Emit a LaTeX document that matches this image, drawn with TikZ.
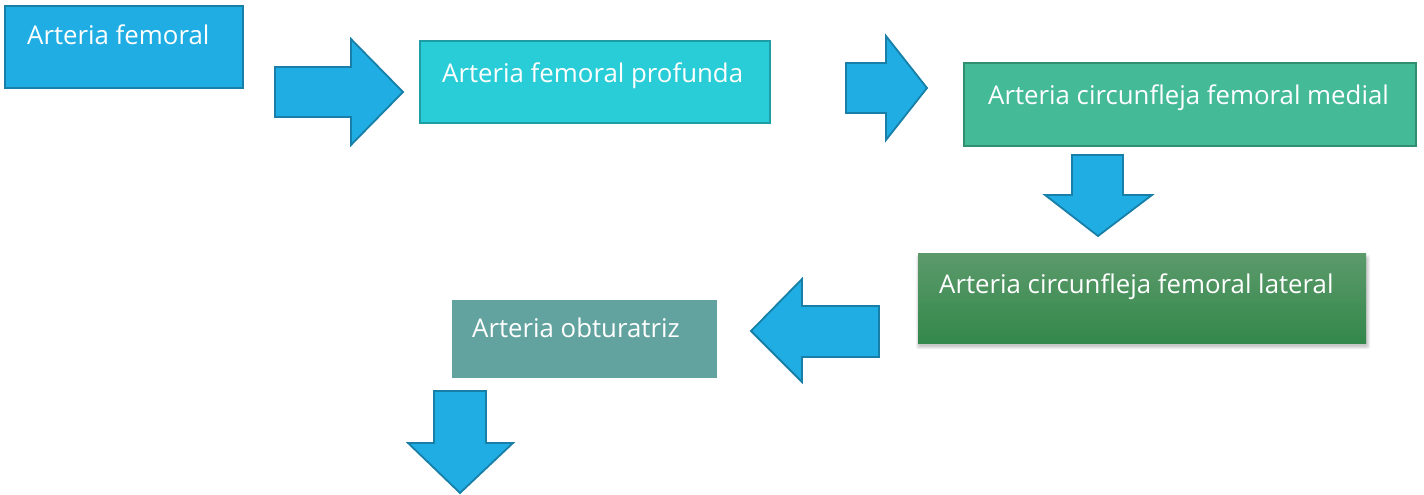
\documentclass[tikz,border=0pt]{standalone}
\usepackage{fontspec}
\setmainfont{Open Sans}
\usetikzlibrary{shadows,calc}
\definecolor{cblue}{HTML}{1FADE3}
\definecolor{cbluedk}{HTML}{177FA8}
\definecolor{ccyan}{HTML}{29CDD7}
\definecolor{ccyandk}{HTML}{1E9DA5}
\definecolor{cgreen}{HTML}{44BA97}
\definecolor{cgreendk}{HTML}{2F8F70}
\definecolor{cgtop}{HTML}{5C9A6C}
\definecolor{cgbot}{HTML}{33884A}
\definecolor{cteal}{HTML}{62A39F}
\tikzset{
  boxbase/.style={rectangle, inner sep=0pt, outer sep=0pt, anchor=north west, line width=2pt},
  lbl/.style={anchor=base west, inner sep=0pt, text=white, font=\fontsize{25.8}{30}\selectfont},
  blockarrow/.style={fill=cblue, draw=cbluedk, line width=1.8pt, line join=miter},
}
\begin{document}
\begin{tikzpicture}[x=1pt,y=-1pt]
\useasboundingbox (0,0) rectangle (1424,495);
% boxes
\node[boxbase, fill=cblue, draw=cbluedk, minimum width=238, minimum height=82] (fem) at (5,6) {};
\node[lbl] (femT) at ($(fem.north west)+(22,39)$) {Arteria femoral};

\node[boxbase, fill=ccyan, draw=ccyandk, minimum width=350, minimum height=82] (prof) at (420,41) {};
\node[lbl] (profT) at ($(prof.north west)+(22,41)$) {Arteria femoral profunda};

\node[boxbase, fill=cgreen, draw=cgreendk, minimum width=452, minimum height=83] (med) at (964,63) {};
\node[lbl] (medT) at ($(med.north west)+(24,41)$) {Arteria circunfleja femoral medial};

% soft shadow for the lateral box
\foreach \i/\o in {0/0.06,1/0.06,2/0.06,3/0.06}{
  \fill[black, opacity=\o, rounded corners=2pt] (918-\i+1,253+5-\i) rectangle (1366+\i+1,343+3+\i);
}
\node[boxbase, top color=cgtop, bottom color=cgbot, minimum width=448, minimum height=90] (lat) at (918,253) {};
\node[lbl] (latT) at ($(lat.north west)+(21,40)$) {Arteria circunfleja femoral lateral};

\node[boxbase, fill=cteal, minimum width=265, minimum height=78] (obt) at (452,300) {};
\node[lbl] (obtT) at ($(obt.north west)+(20,37)$) {Arteria obturatriz};

% block arrows
\draw[blockarrow] (275,67) -- (351,67) -- (351,39) -- (403,92) -- (351,145) -- (351,117) -- (275,117) -- cycle;
\draw[blockarrow] (846,63) -- (886,63) -- (886,36) -- (927,88) -- (886,140) -- (886,113) -- (846,113) -- cycle;
\draw[blockarrow] (1072,155) -- (1123,155) -- (1123,195) -- (1152,195) -- (1098,236) -- (1045,195) -- (1072,195) -- cycle;
\draw[blockarrow] (879,306) -- (802,306) -- (802,279) -- (751,331) -- (802,382) -- (802,357) -- (879,357) -- cycle;
\draw[blockarrow] (434,391) -- (486,391) -- (486,443) -- (513,443) -- (460,493) -- (408,443) -- (434,443) -- cycle;
\end{tikzpicture}
\end{document}
